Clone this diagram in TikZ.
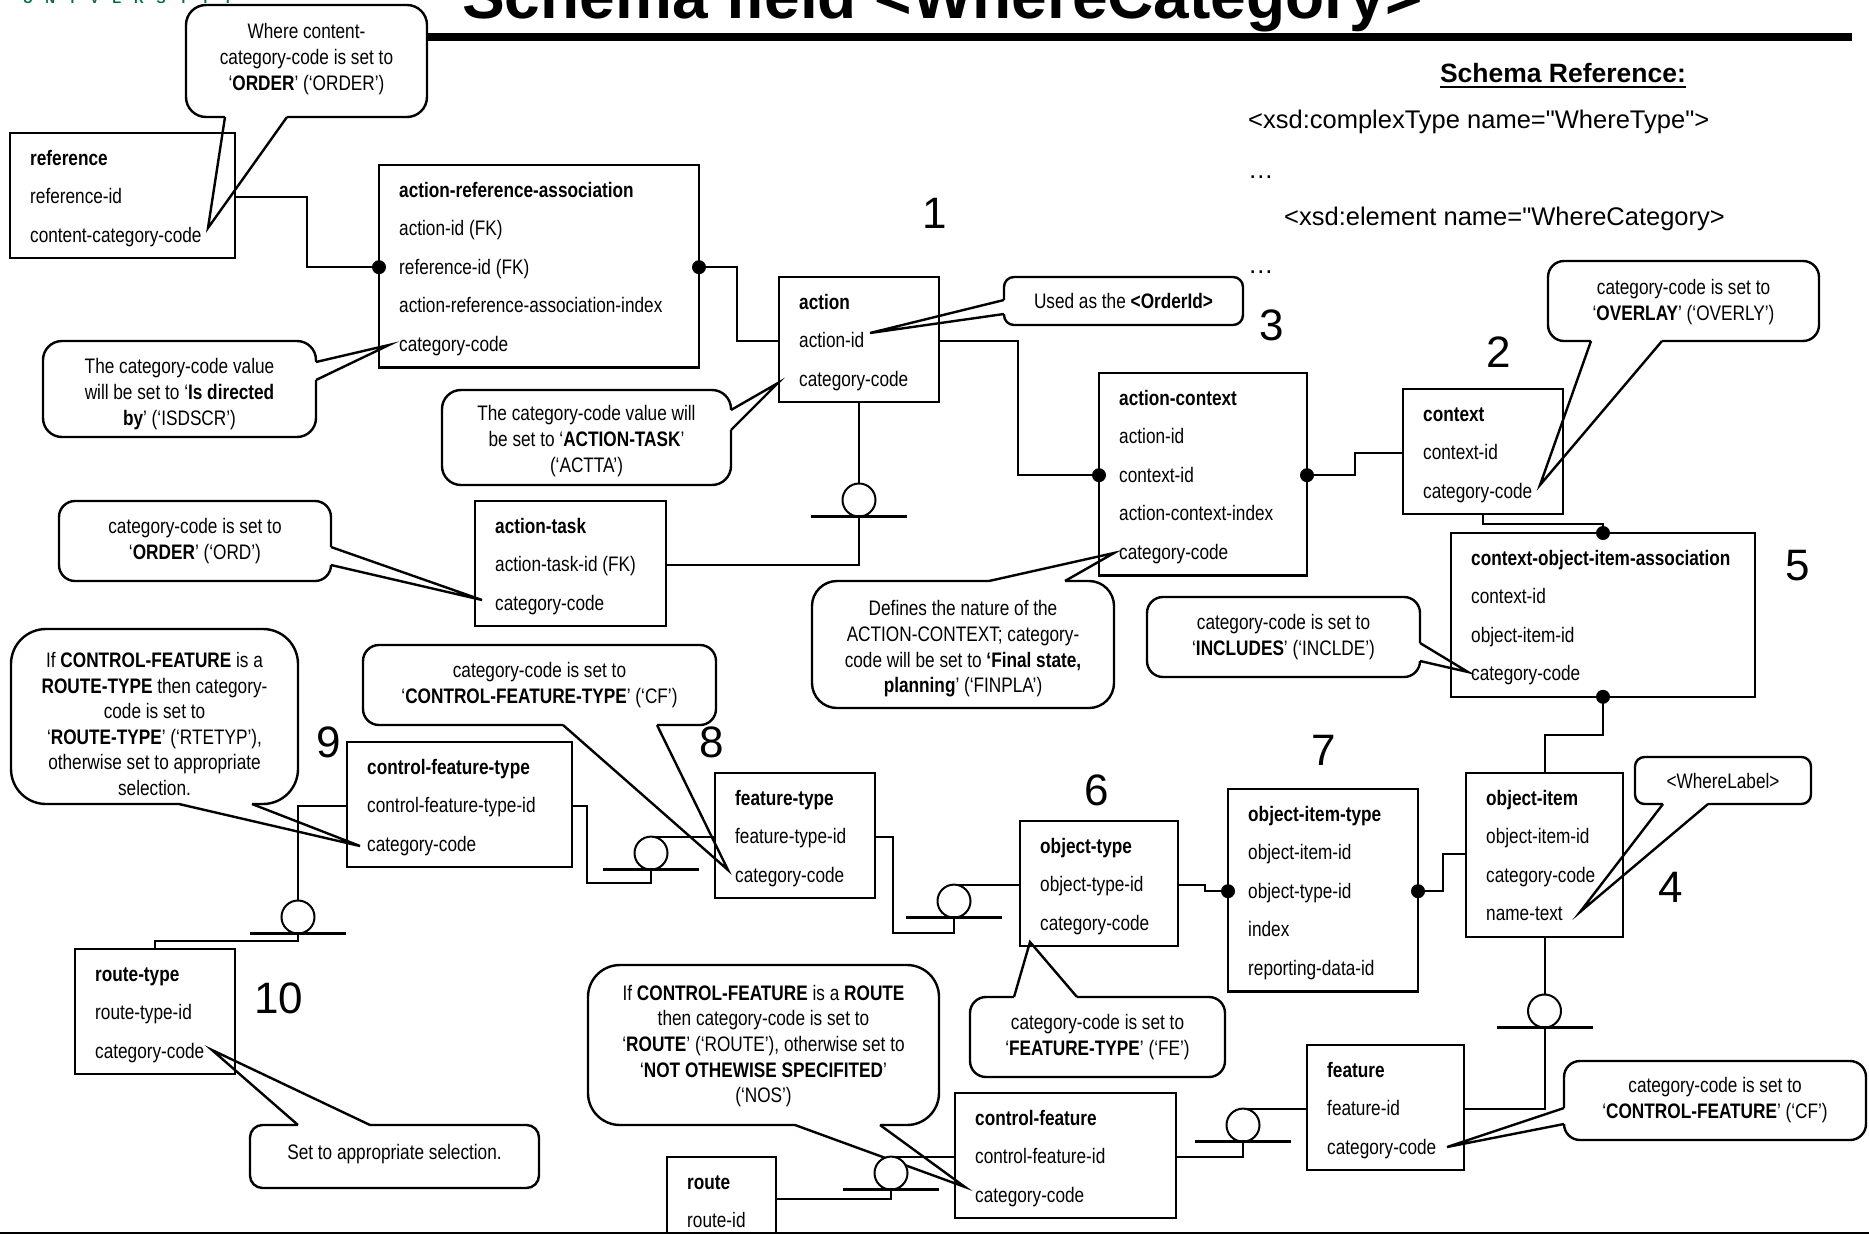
\documentclass[tikz,border=0pt]{standalone}
\usepackage{fontspec}
\setmainfont{Liberation Sans}[FakeStretch=0.82]
\newfontfamily\plainfont{Liberation Sans}[Ligatures=TeXOff]
\usetikzlibrary{calc}
\definecolor{unigreen}{RGB}{0,110,60}

\tikzset{
  entbox/.style={draw, line width=2.4pt, inner sep=0pt, outer sep=0pt},
  rowtxt/.style={anchor=west, inner sep=0pt, text height=16pt, text depth=2pt,
                 font=\fontsize{21}{26}\selectfont},
  conn/.style={line width=2pt},
  barline/.style={line width=2.6pt},
  bubline/.style={line width=2.4pt},
  bubtxt/.style={align=center, inner sep=0pt, font=\fontsize{21}{25.6}\selectfont},
  bignum/.style={anchor=base, inner sep=0pt, font=\plainfont\fontsize{44}{44}\selectfont},
  xsdtxt/.style={anchor=base west, inner sep=0pt, font=\plainfont\fontsize{25.5}{30}\selectfont},
}

% entity box: name, left, top, right, number of row slots, rows (first row is the title)
\newcommand\entity[6]{%
  \pgfmathsetmacro\entw{#4-#2}%
  \pgfmathsetmacro\enth{48+38.6*(#5-1)}%
  \node[entbox, minimum width=\entw pt, minimum height=\enth pt, anchor=north west] (#1) at (#2,#3) {};
  \foreach \rowlabel [count=\rowno from 0] in {#6} {
    \node[rowtxt] (#1-\rowno) at ($(#1.north west)+(20,{25+38.6*\rowno})$)
      {\ifnum\rowno=0 \bfseries\fi\rowlabel};
  }
}

% zero-or-one symbol: circle hanging from (x,y) with its bar underneath
\newcommand\zeroone[2]{%
  \draw[conn, fill=white] (#1,{#2+16.5}) circle[radius=16.5pt];
  \draw[barline] ({#1-48},{#2+33}) -- ({#1+48},{#2+33});
}

% callout body: left, top, right, bottom, corner radius
\newcommand\bubblebody[5]{%
  \draw[bubline, fill=white, rounded corners=#5pt] (#1,#2) rectangle (#3,#4);
}
% callout pointer: base point, tip, base point
\newcommand\bubblewedge[3]{%
  \draw[white, line width=3.6pt] #1 -- #3;
  \draw[bubline, line join=miter] #1 -- #2 -- #3;
}

\begin{document}
\begin{tikzpicture}[x=1pt,y=-1pt]
\useasboundingbox (0,0) rectangle (1869,1234);
\fill[white] (0,0) rectangle (1869,1234);

% logo lettering along the top edge
\foreach \ch [count=\n from 0] in {U,N,I,V,E,R,S,I,T,Y}
  \node[anchor=base, inner sep=0pt, text=unigreen,
        font=\plainfont\bfseries\fontsize{13.5}{14}\selectfont] (uni\n) at ({28+22.2*\n},3.3) {\ch};

% title and rule
\draw[line width=8pt] (400,36.7) -- (1852,36.7);
\node[anchor=base west, inner sep=0pt, font=\plainfont\bfseries\fontsize{64}{64}\selectfont]
  (title) at (462,18.5) {Schema field <WhereCategory>};

% schema reference block
\node[anchor=base, inner sep=0pt, font=\plainfont\bfseries\fontsize{26.5}{30}\selectfont]
  (sref) at (1563,82) {Schema Reference:};
\draw[line width=2.5pt] ($(sref.base west)+(0,5)$) -- ($(sref.base east)+(0,5)$);
\node[xsdtxt] (xsd1) at (1248,128) {<xsd:complexType name="WhereType">};
\node[xsdtxt] (dots1) at (1248,178) {…};
\node[xsdtxt] (xsd2) at (1284,225) {<xsd:element name="WhereCategory>};
\node[xsdtxt] (dots2) at (1248,273) {…};

% callouts
\bubblebody{186}{5}{427}{117}{20}
\bubblewedge{(225,117)}{(208,228)}{(287,117)}
\node[bubtxt] (b1t) at (306.5,59) {Where content-\\category-code is set to\\‘\textbf{ORDER}’ (‘ORDER’)};

\bubblebody{43}{341}{316}{437}{19}
\bubblewedge{(316,362)}{(389,345)}{(316,380)}
\node[bubtxt] (b2t) at (179.5,394) {The category-code value\\will be set to ‘\textbf{Is directed}\\\textbf{by}’ (‘ISDSCR’)};

\bubblebody{442}{390}{731}{485}{19}
\bubblewedge{(731,410)}{(778,383)}{(731,430)}
\node[bubtxt] (b3t) at (586.5,441) {The category-code value will\\be set to ‘\textbf{ACTION-TASK}’\\(‘ACTTA’)};

\bubblebody{1004}{277}{1243}{325}{10}
\bubblewedge{(1004,300)}{(870,333)}{(1004,314)}
\node[bubtxt] (b4t) at (1123.5,301) {Used as the \textbf{<OrderId>}};

\bubblebody{1548}{261}{1819}{341}{16}
\bubblewedge{(1591,341)}{(1540,485)}{(1662,341)}
\node[bubtxt] (b5t) at (1683.5,302) {category-code is set to\\‘\textbf{OVERLAY}’ (‘OVERLY’)};

\bubblebody{59}{501}{331}{581}{16}
\bubblewedge{(331,547)}{(482,600)}{(331,565)}
\node[bubtxt] (b6t) at (195,541) {category-code is set to\\‘\textbf{ORDER}’ (‘ORD’)};

\bubblebody{812}{581}{1114}{708}{25}
\bubblewedge{(989,581)}{(1114,553)}{(1065,581)}
\node[bubtxt] (b7t) at (963,649) {Defines the nature of the\\ACTION-CONTEXT; category-\\code will be set to \textbf{‘Final state,}\\\textbf{planning}’ (‘FINPLA’)};

\bubblebody{1147}{597}{1420}{677}{16}
\bubblewedge{(1420,643)}{(1468,672)}{(1420,661)}
\node[bubtxt] (b8t) at (1283.5,637) {category-code is set to\\‘\textbf{INCLUDES}’ (‘INCLDE’)};

\bubblebody{1635}{757}{1811}{804}{9.5}
\bubblewedge{(1663,804)}{(1580,912)}{(1708,804)}
\node[bubtxt] (b9t) at (1723,781) {<WhereLabel>};

\bubblebody{970}{997}{1225}{1077}{16}
\bubblewedge{(1014,997)}{(1030,942)}{(1077,997)}
\node[bubtxt] (b10t) at (1097.5,1037) {category-code is set to\\‘\textbf{FEATURE-TYPE}’ (‘FE’)};

\bubblebody{588}{965}{939}{1125}{32}
\bubblewedge{(795,1125)}{(965,1187)}{(880,1125)}
\node[bubtxt] (b11t) at (763.5,1046) {If \textbf{CONTROL-FEATURE} is a \textbf{ROUTE}\\then category-code is set to\\‘\textbf{ROUTE}’ (‘ROUTE’), otherwise set to\\‘\textbf{NOT OTHEWISE SPECIFITED}’\\(‘NOS’)};

\bubblebody{1564}{1061}{1866}{1140}{16}
\bubblewedge{(1564,1108)}{(1447,1147)}{(1564,1124)}
\node[bubtxt] (b12t) at (1715,1100) {category-code is set to\\‘\textbf{CONTROL-FEATURE}’ (‘CF’)};

\bubblebody{11}{629}{298}{804}{35}
\bubblewedge{(179,804)}{(360,846)}{(252,804)}
\node[bubtxt] (b13t) at (154.5,724) {If \textbf{CONTROL-FEATURE} is a\\\textbf{ROUTE-TYPE} then category-\\code is set to\\‘\textbf{ROUTE-TYPE}’ (‘RTETYP’),\\otherwise set to appropriate\\selection.};

\bubblebody{363}{645}{716}{725}{16}
\bubblewedge{(563,725)}{(728,870)}{(657,725)}
\node[bubtxt] (b14t) at (539.5,685) {category-code is set to\\‘\textbf{CONTROL-FEATURE-TYPE}’ (‘CF’)};

\bubblebody{250}{1125}{539}{1188}{12.5}
\bubblewedge{(298,1125)}{(212,1050)}{(370,1125)}
\node[bubtxt] (b15t) at (394.5,1154) {Set to appropriate selection.};

% entities
\entity{ref}{10}{133}{235}{3}{reference,reference-id,content-category-code}
\entity{ara}{379}{165}{699}{5}{action-reference-association,action-id (FK),reference-id (FK),action-reference-association-index,category-code}
\entity{act}{779}{277}{939}{3}{action,action-id,category-code}
\entity{at}{475}{501}{666}{3}{action-task,action-task-id (FK),category-code}
\entity{ac}{1099}{373}{1307}{5}{action-context,action-id,context-id,action-context-index,category-code}
\entity{ctx}{1403}{389}{1563}{3}{context,context-id,category-code}
\entity{coia}{1451}{533}{1755}{4}{context-object-item-association,context-id,object-item-id,category-code}
\entity{oi}{1466}{773}{1623}{4}{object-item,object-item-id,category-code,name-text}
\entity{oit}{1228}{789}{1418}{5}{object-item-type,object-item-id,object-type-id,index,reporting-data-id}
\entity{ot}{1020}{821}{1178}{3}{object-type,object-type-id,category-code}
\entity{ft}{715}{773}{875}{3}{feature-type,feature-type-id,category-code}
\entity{cft}{347}{742}{572}{3}{control-feature-type,control-feature-type-id,category-code}
\entity{rt}{75}{949}{235}{3}{route-type,route-type-id,category-code}
\entity{cf}{955}{1093}{1176}{3}{control-feature,control-feature-id,category-code}
\entity{feat}{1307}{1045}{1464}{3}{feature,feature-id,category-code}
\entity{route}{667}{1157}{776}{3}{route,route-id}

% relationships
\draw[conn] (ref.east |- ref-1) -| (307,230) |- (ara.west |- ara-2);
\draw[conn] (ara.east |- ara-2) -| (737,300) |- (act.west |- act-1);
\draw[conn] (act.east |- act-1) -| (1018,400) |- (ac.west |- ac-2);
\draw[conn] (act.south) |- (at.east |- at-1);
\draw[conn] (ac.east |- ac-2) -| (1355,460) |- (ctx.west |- ctx-1);
\draw[conn] (ctx.south) -- ++(0,10) -| (coia.north);
\draw[conn] (coia.south) -- ++(0,38) -| (oi.north);
\draw[conn] (oit.east |- oit-2) -| (1443,870) |- ($(oi.north west)+(0,81)$);
\draw[conn] (ot.east |- ot-1) -| (1205,888) |- (oit.west |- oit-2);
\draw[conn] (ft.east |- ft-1) -| (893,900) |- (954,933) |- (ot.west |- ot-1);
\draw[conn] (cft.east |- cft-1) -| (587,850) |- (651,883) |- (ft.west |- ft-1);
\draw[conn] (cft.west |- cft-1) -| (298,941) -| (rt.north);
\draw[conn] (feat.east |- feat-1) -| (oi.south);
\draw[conn] (cf.east |- cf-1) -| (1243,1130) |- (feat.west |- feat-1);
\draw[conn] ($(route.north east)+(0,42)$) -| (891,1180) |- (cf.west |- cf-1);

% optionality symbols
\zeroone{859}{483.5}
\zeroone{954}{884.6}
\zeroone{651}{836.6}
\zeroone{298}{900.5}
\zeroone{1544.5}{994.5}
\zeroone{1243}{1108.6}
\zeroone{891}{1156.6}

% mandatory ends
\foreach \p in {(ara.west |- ara-2),(ara.east |- ara-2),(ac.west |- ac-2),(ac.east |- ac-2),
                (coia.north),(coia.south),(oit.west |- oit-2),(oit.east |- oit-2)}
  \fill \p circle[radius=7pt];

% step numbers
\node[bignum] (n1) at (935,228) {1};
\node[bignum] (n2) at (1499,367) {2};
\node[bignum] (n3) at (1272,340) {3};
\node[bignum] (n4) at (1671,902) {4};
\node[bignum] (n5) at (1798,580) {5};
\node[bignum] (n6) at (1097,805) {6};
\node[bignum] (n7) at (1324,765) {7};
\node[bignum] (n8) at (712,757) {8};
\node[bignum] (n9) at (329,757) {9};
\node[bignum] (n10) at (279,1013) {10};

% bottom rule
\draw[line width=2pt] (0,1232.5) -- (1869,1232.5);
\end{tikzpicture}
\end{document}
